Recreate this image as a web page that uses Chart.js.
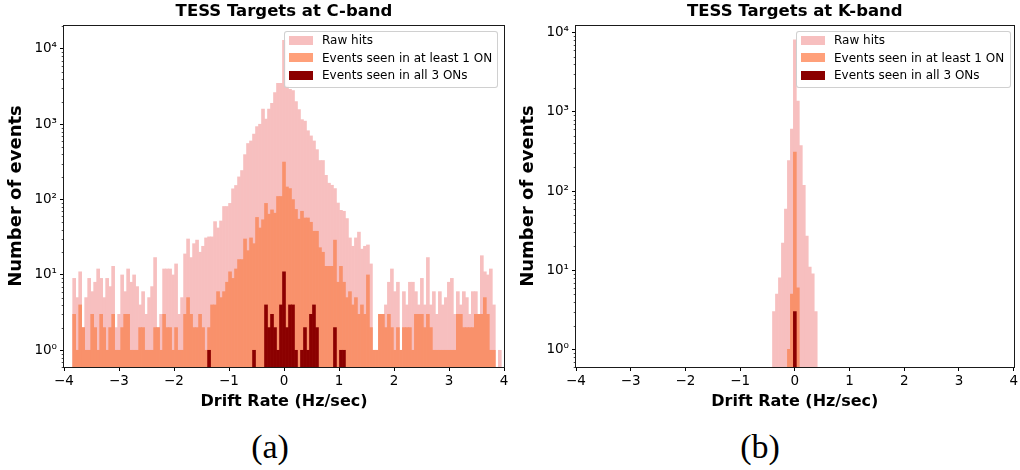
<!DOCTYPE html>
<html><head><meta charset="utf-8">
<script src="https://cdn.jsdelivr.net/npm/chart.js@4/dist/chart.umd.min.js"></script>
<style>
html,body{margin:0;padding:0;background:#fff;}
#wrap{position:relative;width:1020px;height:470px;overflow:hidden;background:#fff;font-family:'DejaVu Sans',sans-serif;}
canvas{position:absolute;top:0;}
.legend{position:absolute;top:31px;height:57px;background:rgba(255,255,255,0.8);border:1px solid rgba(200,200,200,0.85);border-radius:3px;box-sizing:border-box;}
.legend .patch{position:absolute;left:4px;width:24px;height:9px;}
.legend .lbl{position:absolute;left:37px;font-size:12px;line-height:14px;color:#000;white-space:nowrap;}
.cap{position:absolute;top:427px;width:100px;text-align:center;font-family:'Liberation Serif',serif;font-size:34px;line-height:40px;color:#000;}
</style></head>
<body>
<div id="wrap">
  <canvas id="c1" width="512" height="420" style="left:0"></canvas>
  <canvas id="c2" width="508" height="420" style="left:512px"></canvas>
  <div class="legend" id="lg1" style="left:284px;width:214px"></div>
  <div class="legend" id="lg2" style="left:796px;width:215px"></div>
  <div class="cap" style="left:220px">(a)</div>
  <div class="cap" style="left:710px">(b)</div>
</div>
<script>
// ---- histogram bins (drift rate, Hz/sec) ----
const BIN_WIDTH = 0.0545;          // width of one histogram bin
const C_FIRST_BIN = -73;           // index of first C-band bin (bin k is centred at k*BIN_WIDTH)
const K_FIRST_BIN = -7;            // index of first K-band bin

// ---- C-band counts, bins k = -73 ... 73 ----
const cBandRaw = [
  0,0,0,
  9,5,11,2,5,9,6,8,12,9,5,9,7,13,2,3,10,6,12,8,10,7,4,6,3,5,7,17,2,3,12,12,12,10,14,3,5,
  19,30,17,26,29,20,24,31,32,32,51,42,52,81,81,89,139,154,200,243,395,555,600,740,930,1000,1590,1170,1590,1900,2640,3500,3500,
  13000,
  3200,2900,2800,2000,1560,1150,1100,820,700,600,460,330,330,210,165,155,140,90,72,70,56,31,24,31,37,22,24,25,14,1,1,
  3,3,4,8,12,6,8,1,6,4,8,8,6,4,9,4,17,4,6,3,6,4,5,8,9,3,6,4,6,5,3,6,6,3,18,11,10,12,4,0,1,
  0
];
const cBandOneOn = [
  0,0,0,
  3,1,4,2,1,1,3,2,1,3,2,1,2,3,1,1,2,3,3,1,1,1,2,2,1,1,1,2,2,1,3,2,2,1,2,1,1,
  3,5,3,2,2,3,2,1,2,4,4,6,5,6,8,11,9,12,16,16,30,21,31,26,58,42,54,89,64,73,66,110,110,
  315,
  147,140,100,74,55,70,57,57,50,38,38,23,20,13,13,13,29,8,13,8,5,6,4,5,3,4,3,10,2,1,1,
  3,3,2,3,2,1,2,1,2,2,2,1,3,3,3,2,3,2,1,1,1,1,1,1,1,1,3,3,2,2,2,2,3,3,3,5,3,1,1,0,0,
  0
];
const cBandAllOn = [
  0,0,0,
  0,0,0,0,0,0,0,0,0,0,0,0,0,0,0,0,0,0,0,0,0,0,0,0,0,0,0,0,0,0,0,0,0,0,0,0,0,
  0,0,0,0,0,0,0,0,1,0,0,0,0,0,0,0,0,0,0,0,0,0,0,1,0,0,0,4,2,3,2,1,4,
  11,
  2,4,4,1,0,1,2,1,3,4,2,0,0,0,0,0,2,0,1,1,0,0,0,0,0,0,0,0,0,0,0,
  0,0,0,0,0,0,0,0,0,0,0,0,0,0,0,0,0,0,0,0,0,0,0,0,0,0,0,0,0,0,0,0,0,0,0,0,0,0,0,0,0,
  0
];

// ---- K-band counts, bins k = -7 ... 7 ----
const kBandRaw   = [3,5,8,22,59,243,605,8100,1370,374,118,27,11,9,3];
const kBandOneOn = [0,0,0,0,0,1,5,310,6,0,0,0,0,0,0];
const kBandAllOn = [0,0,0,0,0,0,0,3,0,0,0,0,0,0,0];

// ---- axes ----
const X_TICKS = [-4,-3,-2,-1,0,1,2,3,4];
const Y_TICKS = [1,10,100,1000,10000];
const Y_TICK_LABELS = ['10\u2070','10\u00b9','10\u00b2','10\u00b3','10\u2074'];
const SERIES_LABELS = ['Raw hits','Events seen in at least 1 ON','Events seen in all 3 ONs'];
const SERIES_COLORS = ['#F7BFBF','#F9916B','#8B0000'];
const LEGEND_COLORS = ['#F7BFBF','#FFA07A','#8B0000'];

Chart.defaults.font.family = "'DejaVu Sans', sans-serif";
Chart.defaults.color = '#000';

function centres(first, n){ const a=[]; for(let i=0;i<n;i++) a.push(+((first+i)*BIN_WIDTH).toFixed(4)); return a; }

function dataset(label, xs, vals, color, order){
  return {label, data: xs.map((x,i)=>({x, y: vals[i]>0 ? vals[i] : null})),
    backgroundColor: color, borderWidth: 0, grouped: false,
    barPercentage: 1, categoryPercentage: 1, order};
}

const framePlugin = {
  id:'frame',
  afterDraw(chart){
    const {ctx, chartArea:a} = chart;
    const y = chart.scales.y;
    ctx.save();
    ctx.strokeStyle = '#000';
    ctx.lineWidth = 0.7;
    ctx.beginPath();
    for (let e=-1; e<=4; e++) for (let m=2; m<=9; m++){
      const v = m*Math.pow(10,e);
      if (v < y.min || v > y.max) continue;
      const py = Math.round(y.getPixelForValue(v)) + 0.5;
      ctx.moveTo(a.left-2.3, py); ctx.lineTo(a.left, py);
    }
    ctx.stroke();
    ctx.lineWidth = 1;
    ctx.strokeStyle = '#1a1a1a';
    ctx.strokeRect(Math.round(a.left)-0.5, Math.round(a.top)+0.5, Math.round(a.right-a.left)+1, Math.round(a.bottom-a.top));
    ctx.restore();
  }
};

function makeChart(id, title, first, raw, one, all, yMin, yMax, padRight){
  const xs = centres(first, raw.length);
  const tickGrid = {display:true, drawOnChartArea:false, drawTicks:true, tickLength:4, tickColor:'#000', tickWidth:1, offset:false};
  return new Chart(document.getElementById(id), {
    type:'bar',
    data:{datasets:[
      dataset(SERIES_LABELS[0], xs, raw, SERIES_COLORS[0], 3),
      dataset(SERIES_LABELS[1], xs, one, SERIES_COLORS[1], 2),
      dataset(SERIES_LABELS[2], xs, all, SERIES_COLORS[2], 1)
    ]},
    options:{
      responsive:false, animation:false, events:[],
      layout:{padding:{left:0,right:padRight,top:0,bottom:0}},
      plugins:{
        legend:{display:false}, tooltip:{enabled:false},
        title:{display:true, text:title, fullSize:false, color:'#000',
               font:{size:16.5, weight:'bold'}, padding:{top:1.5,bottom:3.7}}
      },
      scales:{
        x:{type:'linear', min:-4, max:4, offset:false,
           afterBuildTicks:s=>{ s.ticks = X_TICKS.map(v=>({value:v})); },
           ticks:{callback:v=>String(v).replace('-','\u2212'), font:{size:13.5}, color:'#000', padding:2, maxRotation:0, autoSkip:false},
           grid:tickGrid, border:{display:false},
           title:{display:true, text:'Drift Rate (Hz/sec)', color:'#000', font:{size:16, weight:'bold'}, padding:{top:0,bottom:8.4}},
           afterFit:s=>{ s.height = 53; }},
        y:{type:'logarithmic', min:yMin, max:yMax,
           afterBuildTicks:s=>{ s.ticks = Y_TICKS.map(v=>({value:v})); },
           ticks:{callback:v=>{const i=Y_TICKS.indexOf(v); return i>=0?Y_TICK_LABELS[i]:'';}, font:{size:13.5}, color:'#000', padding:3, autoSkip:false},
           grid:tickGrid, border:{display:false},
           title:{display:true, text:'Number of events', color:'#000', font:{size:18, weight:'bold'}, padding:{top:5.2,bottom:0}},
           afterFit:s=>{ s.width = 64; }}
      }
    },
    plugins:[framePlugin]
  });
}

function makeLegend(id){
  const box = document.getElementById(id);
  const centres = [8, 25.5, 43];
  SERIES_LABELS.forEach((t,i)=>{
    const p = document.createElement('div'); p.className='patch';
    p.style.top = (centres[i]-4.5)+'px'; p.style.background = LEGEND_COLORS[i];
    const l = document.createElement('div'); l.className='lbl';
    l.style.top = (centres[i]-7)+'px'; l.textContent = t;
    box.appendChild(p); box.appendChild(l);
  });
}

makeChart('c1','TESS Targets at C-band', C_FIRST_BIN, cBandRaw, cBandOneOn, cBandAllOn, 0.628, 20750, 8);
makeChart('c2','TESS Targets at K-band', K_FIRST_BIN, kBandRaw, kBandOneOn, kBandAllOn, 0.649, 12500, 4);
makeLegend('lg1');
makeLegend('lg2');
</script>
</body></html>
